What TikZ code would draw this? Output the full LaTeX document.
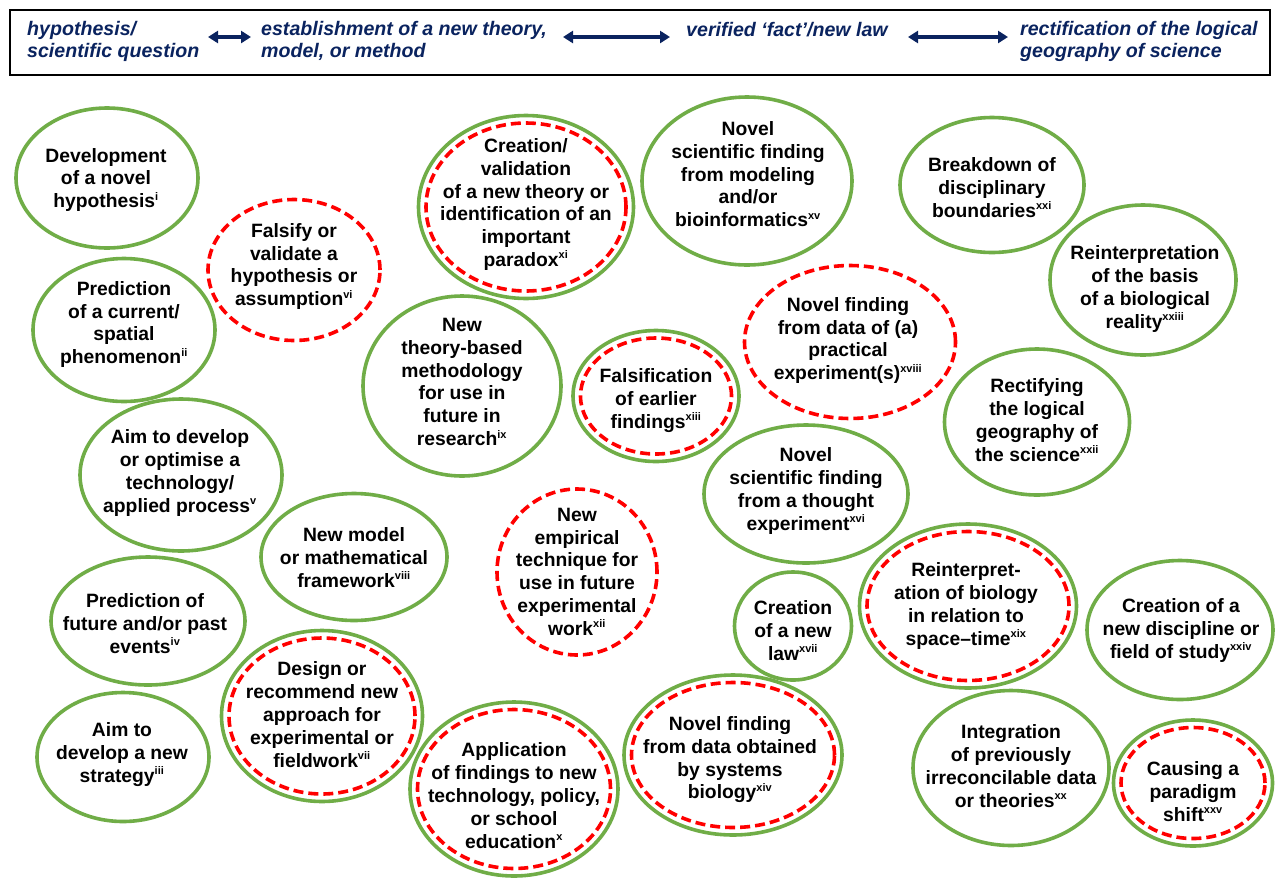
\documentclass[tikz,border=0pt]{standalone}
\usepackage{fontspec}
\setmainfont{Liberation Sans}
\usetikzlibrary{arrows.meta,shapes.geometric}
\definecolor{ogreen}{RGB}{112,173,71}
\definecolor{ored}{RGB}{255,0,0}
\definecolor{hnavy}{RGB}{10,35,95}
\newcommand{\rn}[1]{\textsuperscript{\fontsize{11}{11}\selectfont #1}}
\newcommand{\gb}[5]{\node[gell, minimum width=#4pt-4pt, minimum height=#5pt-4pt] (#1) at (#2,#3) {};}
\newcommand{\rb}[5]{\node[rell, minimum width=#4pt-4pt, minimum height=#5pt-4pt] (#1) at (#2,#3) {};}
\newcommand{\db}[5]{\node[gell, minimum width=#4pt-4pt, minimum height=#5pt-4pt] (#1) at (#2,#3) {};
  \node[rell, minimum width=#4pt-19pt, minimum height=#5pt-19pt] (#1in) at (#2,#3) {};}
\begin{document}
\begin{tikzpicture}[x=1pt,y=-1pt,
  gell/.style={ellipse, draw=ogreen, line width=3.6pt, inner sep=0pt},
  rell/.style={ellipse, draw=ored, line width=3.6pt, dash pattern=on 10pt off 5pt, inner sep=0pt},
  btxt/.style={align=center, font=\fontsize{19.3}{22.8}\selectfont\bfseries, inner sep=0pt, yshift=-2pt},
  htxt/.style={align=left, anchor=west, font=\fontsize{19.6}{22}\selectfont\bfseries\itshape, text=hnavy, inner sep=0pt},
  harr/.style={{Triangle[width=12pt,length=10pt]}-{Triangle[width=12pt,length=10pt]}, line width=3.5pt, draw=hnavy}]
\useasboundingbox (0,0) rectangle (1277,879);
\fill[white] (0,0) rectangle (1277,879);
% header
\node[draw, line width=2pt, minimum width=1260pt, minimum height=65pt, anchor=north west, inner sep=0pt] (hdr) at (9,9) {};
\node[htxt] (h1) at (27,41) {hypothesis/\\scientific question};
\node[htxt] (h2) at (261,41) {establishment of a new theory,\\model, or method};
\node[htxt] (h3) at (686,30) {verified ‘fact’/new law};
\node[htxt] (h4) at (1020,41) {rectification of the logical\\geography of science};
\coordinate (a1l) at (208,37); \coordinate (a1r) at (251,37);
\coordinate (a2l) at (563,37); \coordinate (a2r) at (670,37);
\coordinate (a3l) at (908,37); \coordinate (a3r) at (1008,37);
\draw[harr] (a1l) -- (a1r);
\draw[harr] (a2l) -- (a2r);
\draw[harr] (a3l) -- (a3r);
% bubbles
\gb{e1}{107}{178}{186}{144}
\gb{e2}{124}{330}{186}{147}
\rb{e3}{294}{270}{176}{145}
\db{e4}{526}{207}{219}{187}
\gb{e5}{747}{181}{214}{172}
\gb{e6}{992}{185}{188}{139}
\gb{e7}{1143}{280}{190}{154}
\rb{e8}{850}{342}{215}{157}
\gb{e9}{1037}{422}{189}{150}
\gb{e10}{462}{386}{202}{184}
\db{e11}{656}{396}{170}{135}
\gb{e12}{181}{475}{206}{156}
\gb{e13}{806}{494}{208}{142}
\gb{e14}{354}{557}{190}{131}
\rb{e15}{577}{572}{164}{170}
\gb{e16}{148}{621}{198}{132}
\gb{e17}{793}{626}{121}{112}
\db{e18}{968}{606}{221}{168}
\gb{e19}{1180}{630}{190}{143}
\db{e20}{322}{716}{205}{175}
\gb{e21}{123}{757}{176}{133}
\db{e22}{514}{789}{212}{178}
\db{e23}{733}{755}{222}{164}
\gb{e24}{1011}{768}{200}{159}
\db{e25}{1193}{783}{163}{130}
% texts
\node[btxt] (t1) at (106,178) {Development\\of a novel\\hypothesis\rn{i}};
\node[btxt] (t2) at (124,322.5) {Prediction\\of a current/\\spatial\\phenomenon\rn{ii}};
\node[btxt] (t3) at (294,264.5) {Falsify or\\validate a\\hypothesis or\\assumption\rn{vi}};
\node[btxt] (t4) at (526,202.5) {Creation/\\validation\\of a new theory or\\identification of an\\important\\paradox\rn{xi}};
\node[btxt] (t5) at (748,172.2) {Novel\\scientific finding\\from modeling\\and/or\\bioinformatics\rn{xv}};
\node[btxt] (t6) at (992,185.7) {Breakdown of\\disciplinary\\boundaries\rn{xxi}};
\node[btxt] (t7) at (1145,287) {Reinterpretation\\of the basis\\of a biological\\reality\rn{xxiii}};
\node[btxt] (t8) at (848,338.5) {Novel finding\\from data of (a)\\practical\\experiment(s)\rn{xviii}};
\node[btxt] (t9) at (1037,418) {Rectifying\\the logical\\geography of\\the science\rn{xxii}};
\node[btxt] (t10) at (462,380) {New\\theory-based\\methodology\\for use in\\future in\\research\rn{ix}};
\node[btxt] (t11) at (656,398.7) {Falsification\\of earlier\\findings\rn{xiii}};
\node[btxt] (t12) at (180,470.8) {Aim to develop\\or optimise a\\technology/\\applied process\rn{v}};
\node[btxt] (t13) at (806,488.8) {Novel\\scientific finding\\from a thought\\experiment\rn{xvi}};
\node[btxt] (t14) at (354,555.7) {New model\\or mathematical\\framework\rn{viii}};
\node[btxt] (t15) at (577,569.7) {New\\empirical\\technique for\\use in future\\experimental\\work\rn{xii}};
\node[btxt] (t16) at (145,621.7) {Prediction of\\future and/or past\\events\rn{iv}};
\node[btxt] (t17) at (793,628.7) {Creation\\of a new\\law\rn{xvii}};
\node[btxt] (t18) at (966,603.8) {Reinterpret-\\ation of biology\\in relation to\\space–time\rn{xix}};
\node[btxt] (t19) at (1181,628.3) {Creation of a\\new discipline or\\field of study\rn{xxiv}};
\node[btxt] (t20) at (322,712.6) {Design or\\recommend new\\approach for\\experimental or\\fieldwork\rn{vii}};
\node[btxt] (t21) at (122,752.7) {Aim to\\develop a new\\strategy\rn{iii}};
\node[btxt] (t22) at (514,793.6) {Application\\of findings to new\\technology, policy,\\or school\\education\rn{x}};
\node[btxt] (t23) at (730,757.8) {Novel finding\\from data obtained\\by systems\\biology\rn{xiv}};
\node[btxt] (t24) at (1011,764) {Integration\\of previously\\irreconcilable data\\or theories\rn{xx}};
\node[btxt] (t25) at (1193,789.7) {Causing a\\paradigm\\shift\rn{xxv}};
\end{tikzpicture}
\end{document}
